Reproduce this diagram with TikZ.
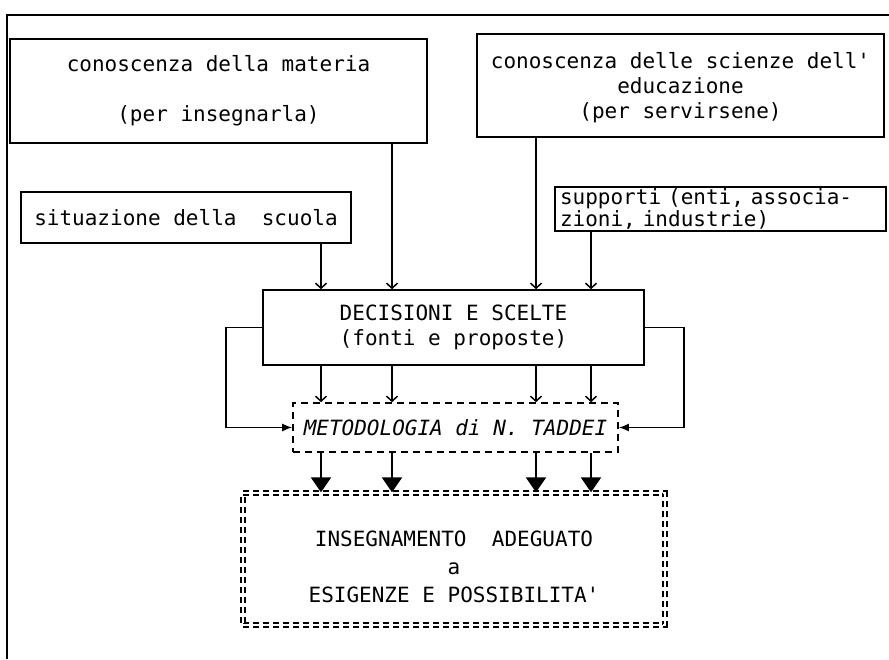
\documentclass[tikz,border=0pt]{standalone}
\usepackage{fontspec}
\setmonofont{DejaVu Sans Mono}
\usetikzlibrary{arrows.meta, positioning}

\begin{document}
\begin{tikzpicture}[
        x=1pt, y=-1pt,
        box/.style={
            rectangle,
            draw=black,
            line width=1.6pt,
            inner sep=0pt,
            align=center,
            font=\ttfamily\fontsize{21}{25}\selectfont
        },
        dashbox/.style={
            box,
            dash pattern=on 7pt off 5pt,
            font=\ttfamily\itshape\fontsize{21}{25}\selectfont
        },
        finalbox/.style={
            box,
            line width=1.4pt,
            double,
            double distance=2.6pt,
            dash pattern=on 6pt off 4pt
        },
        feed/.style={
            draw,
            line width=1.5pt,
            -{Straight Barb[length=5pt, width=11pt]}
        },
        loopline/.style={
            draw,
            line width=1.5pt,
            -{Latex[length=10pt, width=8pt]}
        },
        bigarrow/.style={
            draw,
            line width=2.4pt,
            -{Triangle[length=15pt, width=20pt]}
        }
    ]
        \useasboundingbox (0,0) rectangle (889,659);

        % Frame
        \draw [line width=1.4pt] (889,15) -- (7,15) -- (7,659);

        % Nodes
        \node [box, minimum width=417pt, minimum height=104pt] (materia) at (218.5,91)
            {conoscenza della materia\\[25pt](per insegnarla)};
        \node [box, minimum width=407pt, minimum height=103pt] (scienze) at (680.5,85.5)
            {\rule{0pt}{20pt}conoscenza delle scienze dell'\\educazione\\(per servirsene)};
        \node [box, minimum width=330pt, minimum height=51pt] (situazione) at (186,217.5)
            {situazione della\ \ scuola};
        \node [box, text width=321pt, inner xsep=5pt, minimum height=44pt, align=left,
               font=\ttfamily\fontsize{21}{20}\selectfont] (supporti) at (720.5,209)
            {supporti (enti, associa-\\zioni, industrie)};
        \node [box, minimum width=381pt, minimum height=75pt] (decisioni) at (453.5,327.5)
            {DECISIONI E SCELTE\\(fonti e proposte)};
        \node [dashbox, minimum width=325pt, minimum height=49pt] (metodo) at (455.5,427.5)
            {METODOLOGIA di N. TADDEI};
        \node [finalbox, minimum width=422pt, minimum height=132pt] (insegnamento) at (454,559)
            {\rule{0pt}{32pt}INSEGNAMENTO\ \ ADEGUATO\\[3pt]a\\[3pt]ESIGENZE E POSSIBILITA'};

        % Columns of the vertical connectors
        \coordinate (colA) at (321,0);
        \coordinate (colB) at (392,0);
        \coordinate (colC) at (536,0);
        \coordinate (colD) at (591,0);

        % Edges
        \draw [feed] (colA |- situazione.south) -- (colA |- decisioni.north);
        \draw [feed] (colB |- materia.south) -- (colB |- decisioni.north);
        \draw [feed] (colC |- scienze.south) -- (colC |- decisioni.north);
        \draw [feed] (colD |- supporti.south) -- (colD |- decisioni.north);

        \foreach \c in {colA, colB, colC, colD} {
            \draw [feed] (\c |- decisioni.south) -- (\c |- metodo.north);
            \draw [bigarrow] (\c |- metodo.south) -- (\c |- insegnamento.north);
        }

        \draw [loopline] (decisioni.west) -- ++(-36,0) |- (metodo.west);
        \draw [loopline] (decisioni.east) -- ++(39,0) |- (metodo.east);

    \end{tikzpicture}
\end{document}
